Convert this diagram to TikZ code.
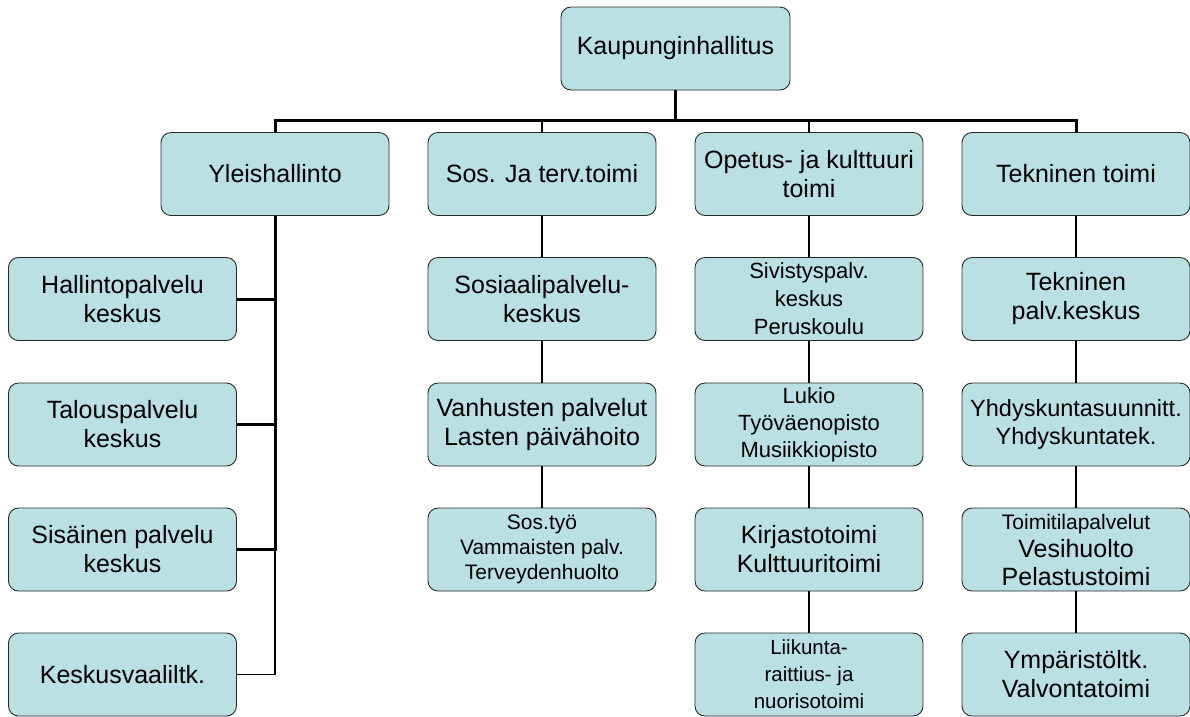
\documentclass[tikz,border=0pt]{standalone}
\usepackage{fontspec}
\setmainfont{Liberation Sans}
\usepackage{tikz}
\usetikzlibrary{calc}

\definecolor{boxfill}{RGB}{187,224,227}
\definecolor{boxline}{RGB}{40,40,40}

\begin{document}
\begin{tikzpicture}[x=1pt, y=-1pt,
  box/.style={draw=boxline, line width=0.9pt, fill=boxfill, rounded corners=10pt,
    minimum width=228pt, minimum height=83pt, inner sep=2pt, align=center,
    font=\fontsize{25}{29}\selectfont},
  link/.style={line width=2.4pt, black},
  busline/.style={line width=3pt, black},
  thinlink/.style={line width=1.8pt, black}]

\useasboundingbox (0,0) rectangle (1190,716);

% First, define nodes: the top one and the four offices
\draw (675.5,48.5) node[box, minimum width=229pt] (kaupunki) {Kaupunginhallitus};
\draw (275,174) node[box] (yleis) {Yleishallinto};
\draw (542,174) node[box] (sostoimi) {Sos. Ja terv.toimi};
\draw (809,174) node[box] (opetus) {Opetus- ja kulttuuri\\toimi};
\draw (1076,174) node[box] (tekn) {Tekninen toimi};

% Left column, hanging off Yleishallinto
\draw (122.5,299) node[box] (hallinto) {Hallintopalvelu\\keskus};
\draw (122.5,424.5) node[box] (talous) {Talouspalvelu\\keskus};
\draw (122.5,549.5) node[box] (sisainen) {Sisäinen palvelu\\keskus};
\draw (122.5,674.5) node[box] (vaali) {Keskusvaaliltk.};

% Column under Sos. Ja terv.toimi
\draw (542,299) node[box] (sospalv) {Sosiaalipalvelu-\\keskus};
\draw (542,424.5) node[box] (vanhus) {Vanhusten palvelut\\Lasten päivähoito};
\draw (542,549.5) node[box, font=\fontsize{21}{25}\selectfont] (sostyo) {Sos.työ\\Vammaisten palv.\\Terveydenhuolto};

% Column under Opetus- ja kulttuuri toimi
\draw (809,299) node[box, font=\fontsize{22}{28}\selectfont] (sivistys) {Sivistyspalv.\\keskus\\Peruskoulu};
\draw (809,424.5) node[box, font=\fontsize{22}{27}\selectfont] (lukio) {Lukio\\Työväenopisto\\Musiikkiopisto};
\draw (809,549.5) node[box, font=\fontsize{25}{29}\selectfont] (kirjasto) {Kirjastotoimi\\Kulttuuritoimi};
\draw (809,674.5) node[box, font=\fontsize{20.5}{27}\selectfont] (liikunta) {Liikunta-\\raittius- ja\\nuorisotoimi};

% Column under Tekninen toimi
\draw (1076,299) node[box] (teknpalv) {Tekninen\\palv.keskus};
\draw (1076,424.5) node[box, font=\fontsize{23.5}{28}\selectfont] (yhdysk) {Yhdyskuntasuunnitt.\\Yhdyskuntatek.};
\draw (1076,549.5) node[box, font=\fontsize{25}{28}\selectfont] (toimitila) {{\fontsize{21}{25}\selectfont Toimitilapalvelut}\\Vesihuolto\\Pelastustoimi};
\draw (1076,674.5) node[box] (ymparisto) {Ympäristöltk.\\Valvontatoimi};

% Now the bus between the top and the four offices
\coordinate (bus) at (675.5,120);
\draw[busline] (kaupunki.south) -- (kaupunki.south |- bus);
\draw[busline] (yleis.north) |- (bus) -| (tekn.north);
\draw[thinlink] (sostoimi.north) -- (sostoimi.north |- bus);
\draw[thinlink] (opetus.north) -- (opetus.north |- bus);

% The trunk of Yleishallinto, with a branch to every box on the left
\draw[busline] (yleis.south) -- (yleis.south |- sisainen.east) -- (sisainen.east);
\foreach \b in {hallinto,talous}
  \draw[busline] (\b.east) -- (\b.east -| yleis.south);
\draw[thinlink] (yleis.south |- sisainen.east) |- (vaali.east);

% Finally the straight links down the other three columns
\foreach \a/\b in {sostoimi/sospalv, sospalv/vanhus, vanhus/sostyo,
                   opetus/sivistys, sivistys/lukio, lukio/kirjasto, kirjasto/liikunta,
                   tekn/teknpalv, teknpalv/yhdysk, yhdysk/toimitila, toimitila/ymparisto}
  \draw[link] (\a.south) -- (\b.north);

\end{tikzpicture}
\end{document}
